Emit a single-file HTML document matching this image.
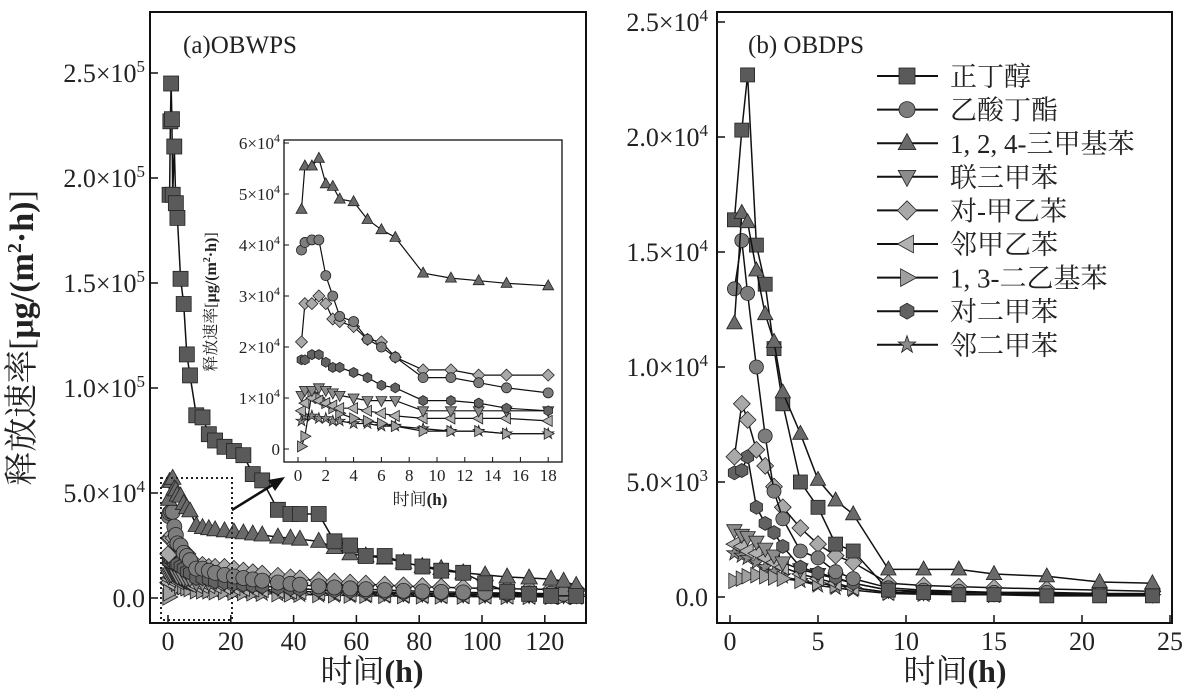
<!DOCTYPE html>
<html><head><meta charset="utf-8"><style>
body{margin:0;background:#fff}
svg text{font-family:"Liberation Serif","Noto Serif CJK SC",serif;fill:#222}
</style></head><body>
<svg id="s" width="1182" height="693" xmlns="http://www.w3.org/2000/svg"></svg>
<script>
const S=document.getElementById('s');let h='';
const F={sq:'#5a5a5a',ci:'#7d7d7d',tu:'#6a6a6a',td:'#8c8c8c',di:'#a9a9a9',tl:'#b2b2b2',tr:'#a0a0a0',hx:'#626262',st:'#8a8a8a'};
function mk(t,x,y,r){const f=F[t];
 if(t=='sq')return `<rect x="${x-r}" y="${y-r}" width="${2*r}" height="${2*r}" fill="${f}" stroke="#222" stroke-width="0.8"/>`;
 if(t=='ci')return `<circle cx="${x}" cy="${y}" r="${r}" fill="${f}" stroke="#222" stroke-width="0.8"/>`;
 let pts=[];
 if(t=='tu')pts=[[0,-1.2],[1.1,0.8],[-1.1,0.8]];
 if(t=='td')pts=[[0,1.2],[1.1,-0.8],[-1.1,-0.8]];
 if(t=='tl')pts=[[-1.2,0],[0.8,1.1],[0.8,-1.1]];
 if(t=='tr')pts=[[1.2,0],[-0.8,1.1],[-0.8,-1.1]];
 if(t=='di')pts=[[0,-1.2],[1.2,0],[0,1.2],[-1.2,0]];
 if(t=='hx')for(let i=0;i<6;i++){const a=Math.PI/3*i+Math.PI/6;pts.push([Math.cos(a),Math.sin(a)]);}
 if(t=='st')for(let i=0;i<10;i++){const a=Math.PI/5*i-Math.PI/2,q=i%2?0.45:1.15;pts.push([q*Math.cos(a),q*Math.sin(a)]);}
 return `<polygon points="${pts.map(p=>(x+p[0]*r).toFixed(1)+','+(y+p[1]*r).toFixed(1)).join(' ')}" fill="${f}" stroke="#222" stroke-width="0.8"/>`;}
function series(t,ts,vs,X,Y,r,lw){let d=ts.map((a,i)=>X(a).toFixed(1)+','+Y(vs[i]).toFixed(1)).join(' ');
 h+=`<polyline points="${d}" fill="none" stroke="#111" stroke-width="${lw}"/>`;ts.forEach((a,i)=>h+=mk(t,X(a),Y(vs[i]),r));}
function txt(x,y,s,sz,a,extra){h+=`<text x="${x}" y="${y}" font-size="${sz}" text-anchor="${a||'middle'}" ${extra||''}>${s}</text>`;}
const sup=(n,s)=>`<tspan dy="-10" font-size="${s||17}">${n}</tspan>`;
// ---------- left panel ----------
const tI=[0.25,0.5,1,1.5,2,2.5,3,4,5,6,7,9,11,13,15,18];
const I={tu:[47,55.5,55.5,57,52,51.5,49,48.5,45,43,41.5,34.5,33.5,33,32.5,32],
ci:[39,40.5,41,41,34,30,26,25,21.5,20,18,14,14,13,12,11],
di:[21,28.5,28.5,30,28.5,25.5,25,24,21.5,21,18,15.5,15.5,14.5,14.5,14.5],
hx:[17.5,17.5,18.5,18.5,17,16,16,15,14,12.5,12,9.5,9.5,9,8,7.5],
td:[10.5,11.5,11.5,12,11.5,11,10.5,10,9.5,9.5,9.5,7.5,7.5,7.5,7.5,7.5],
tl:[7.5,9,10,9.5,9,8.5,8,8,7.5,7,6.5,6,6,6,6,5.5],
tr:[0.5,2.5,11,10,9,8,7,6,5.5,5,4.5,3.5,3.5,3.5,3,3],
st:[5.5,6.5,6.5,6,6,5.5,5.5,5,5,4.5,4.5,4,3.5,3.5,3,3]};
const tE=[21,24,27,30,35,39,42,48,53,58,63,69,75,81,87,94,101,108,115,122,126,130];
const end={tu:6,ci:2,di:4,hx:1.5,td:1.5,tl:1,tr:0.8,st:0.5};
const mainT=tI.concat(tE);
const XL=t=>168+t*3.14, YL=v=>598-v*2.1;
const sqT=[0.5,0.75,1,1.25,1.5,2,2.5,3,4,5,6,7,9,11,13,15,18,21,24,27,30,35,39,42,48,53,58,63,69,75,81,87,94,101,108,115,122,130];
const sqV=[192,227,245,228,192,215,188,181,152,140,116,106,87,86,78,75,72,70,68,59,56,42,40,40,40,27,25,20,20,17,15,13,12,7,3,2,1,1];
h+=`<rect x="150" y="12" width="436" height="611" fill="none" stroke="#111" stroke-width="2"/>`;
const order=['st','tr','tl','td','hx','di','ci','tu'];
order.forEach(k=>{const a=I[k],last=a[a.length-1],vs=a.slice();tE.forEach((t,i)=>vs.push(last+(end[k]-last)*(1-Math.exp(-(t-18)/35))/(1-Math.exp(-112/35))));
 if(k=='tu'){const tv=[31.5,31,30.5,30,29,28.5,28,27,24,21,20,19,17,15,14,12,11,10,9.5,9,8,6];tv.forEach((v,i)=>vs[16+i]=v);}
 series(k,mainT,vs,XL,YL,7.5,1.5);});
series('sq',sqT,sqV,XL,YL,7.5,1.5);
[[0,'0.0'],[50,'5.0×10'+sup(4)],[100,'1.0×10'+sup(5)],[150,'1.5×10'+sup(5)],[200,'2.0×10'+sup(5)],[250,'2.5×10'+sup(5)]].forEach(([v,s])=>{const y=YL(v);h+=`<line x1="150" y1="${y}" x2="158" y2="${y}" stroke="#111" stroke-width="1.5"/>`;txt(145,y+9,s,26,'end');});
for(let t=0;t<=120;t+=20){const x=XL(t);h+=`<line x1="${x}" y1="623" x2="${x}" y2="615" stroke="#111" stroke-width="1.5"/>`;txt(x,650,t,26);}
txt(33,338,'释放速率[<tspan font-weight="bold">μg/(m<tspan dy="-12" font-size="20">2</tspan><tspan dy="12">·h)</tspan></tspan>]',34,'middle','transform="rotate(-90 33 338)"');
txt(372,682,'时间<tspan font-weight="bold">(h)</tspan>',32);
txt(183,53,'(a)OBWPS',25,'start');
h+=`<rect x="161" y="478" width="71" height="142" fill="none" stroke="#222" stroke-width="2" stroke-dasharray="2,3"/>`;
h+=`<line x1="232" y1="510" x2="274" y2="484" stroke="#111" stroke-width="2.5"/><polygon points="285,477 268,480 275,491" fill="#111"/>`;
// inset
h+=`<rect x="284" y="140" width="278" height="322" fill="#fff" stroke="#111" stroke-width="1.3"/>`;
const XI=t=>298+t*13.9, YI=v=>449-v*5.1;
order.forEach(k=>series(k,tI,I[k],XI,YI,5,1.2));
for(let v=0;v<=60;v+=10){const y=YI(v);h+=`<line x1="284" y1="${y}" x2="289" y2="${y}" stroke="#111"/>`;txt(280,y+6,v?v/10+'×10<tspan dy="-7" font-size="12">4</tspan>':'0',17,'end');}
for(let t=0;t<=18;t+=2){const x=XI(t);h+=`<line x1="${x}" y1="462" x2="${x}" y2="457" stroke="#111"/>`;txt(x,481,t,17);}
txt(216,302,'释放速率[<tspan font-weight="bold">μg/(m<tspan dy="-6" font-size="10">2</tspan><tspan dy="6">·h)</tspan></tspan>]',16,'middle','transform="rotate(-90 216 302)"');
txt(420,505,'时间<tspan font-weight="bold">(h)</tspan>',17);
// ---------- right panel ----------
h+=`<rect x="717" y="12" width="455" height="611" fill="none" stroke="#111" stroke-width="2"/>`;
const XR=t=>730+t*17.6, YR=v=>597-v*23;
const tR=[0.25,0.67,1,1.5,2,2.5,3,4,5,6,7,9,11,13,15,18,21,24];
const R={st:[1.9,1.8,1.7,1.5,1.3,1.1,0.9,0.7,0.5,0.4,0.3,0.15,0.12,0.1,0.1,0.1,0.1,0.1],
tr:[0.7,0.8,0.9,0.95,0.9,0.85,0.8,0.7,0.6,0.5,0.4,0.2,0.15,0.12,0.1,0.1,0.1,0.1],
tl:[2.3,2.2,2.0,1.9,1.7,1.5,1.3,1.0,0.8,0.6,0.4,0.2,0.15,0.12,0.1,0.1,0.1,0.1],
td:[2.9,2.7,2.6,2.4,2.1,1.8,1.5,1.2,1.0,0.8,0.6,0.3,0.2,0.2,0.15,0.15,0.12,0.1],
hx:[5.4,5.5,6.1,3.9,3.2,2.8,2.2,1.3,1.05,0.85,0.6,0.3,0.25,0.2,0.2,0.15,0.15,0.1],
di:[6.1,8.4,7.7,6.4,5.7,4.8,3.9,3.0,2.3,1.8,1.5,0.6,0.5,0.45,0.4,0.35,0.3,0.25],
ci:[13.4,15.5,13.2,10.0,7.0,4.6,3.4,2.0,1.7,1.1,0.8,0.4,0.3,0.25,0.2,0.2,0.15,0.15],
tu:[11.9,16.7,16.3,14.2,12.3,11.1,8.9,7.1,5.1,4.2,3.6,1.2,1.2,1.2,1.0,0.9,0.65,0.6],
sq:[16.4,20.3,22.7,15.3,13.6,10.8,8.4,5.0,3.9,2.3,2.0,0.3,0.2,0.1,0.1,0.05,0.05,0.05]};
['st','tr','tl','td','hx','di','ci','sq','tu'].forEach(k=>series(k,tR,R[k],XR,YR,7,1.5));
[[0,'0.0'],[5,'5.0×10'+sup(3)],[10,'1.0×10'+sup(4)],[15,'1.5×10'+sup(4)],[20,'2.0×10'+sup(4)],[25,'2.5×10'+sup(4)]].forEach(([v,s])=>{const y=YR(v);h+=`<line x1="717" y1="${y}" x2="725" y2="${y}" stroke="#111" stroke-width="1.5"/>`;txt(708,y+9,s,26,'end');});
for(let t=0;t<=25;t+=5){const x=XR(t);h+=`<line x1="${x}" y1="623" x2="${x}" y2="615" stroke="#111" stroke-width="1.5"/>`;txt(x,650,t,26);}
txt(955,682,'时间<tspan font-weight="bold">(h)</tspan>',32);
txt(748,53,'(b) OBDPS',25,'start');
const L=[['sq','正丁醇'],['ci','乙酸丁酯'],['tu','1, 2, 4-三甲基苯'],['td','联三甲苯'],['di','对-甲乙苯'],['tl','邻甲乙苯'],['tr','1, 3-二乙基苯'],['hx','对二甲苯'],['st','邻二甲苯']];
L.forEach(([k,s],i)=>{const y=76+i*33.6;h+=`<line x1="877" y1="${y}" x2="938" y2="${y}" stroke="#111" stroke-width="2"/>`;h+=mk(k,907,y,8);txt(950,y+10,s,27,'start');});
S.innerHTML=h;
</script>
</body></html>
